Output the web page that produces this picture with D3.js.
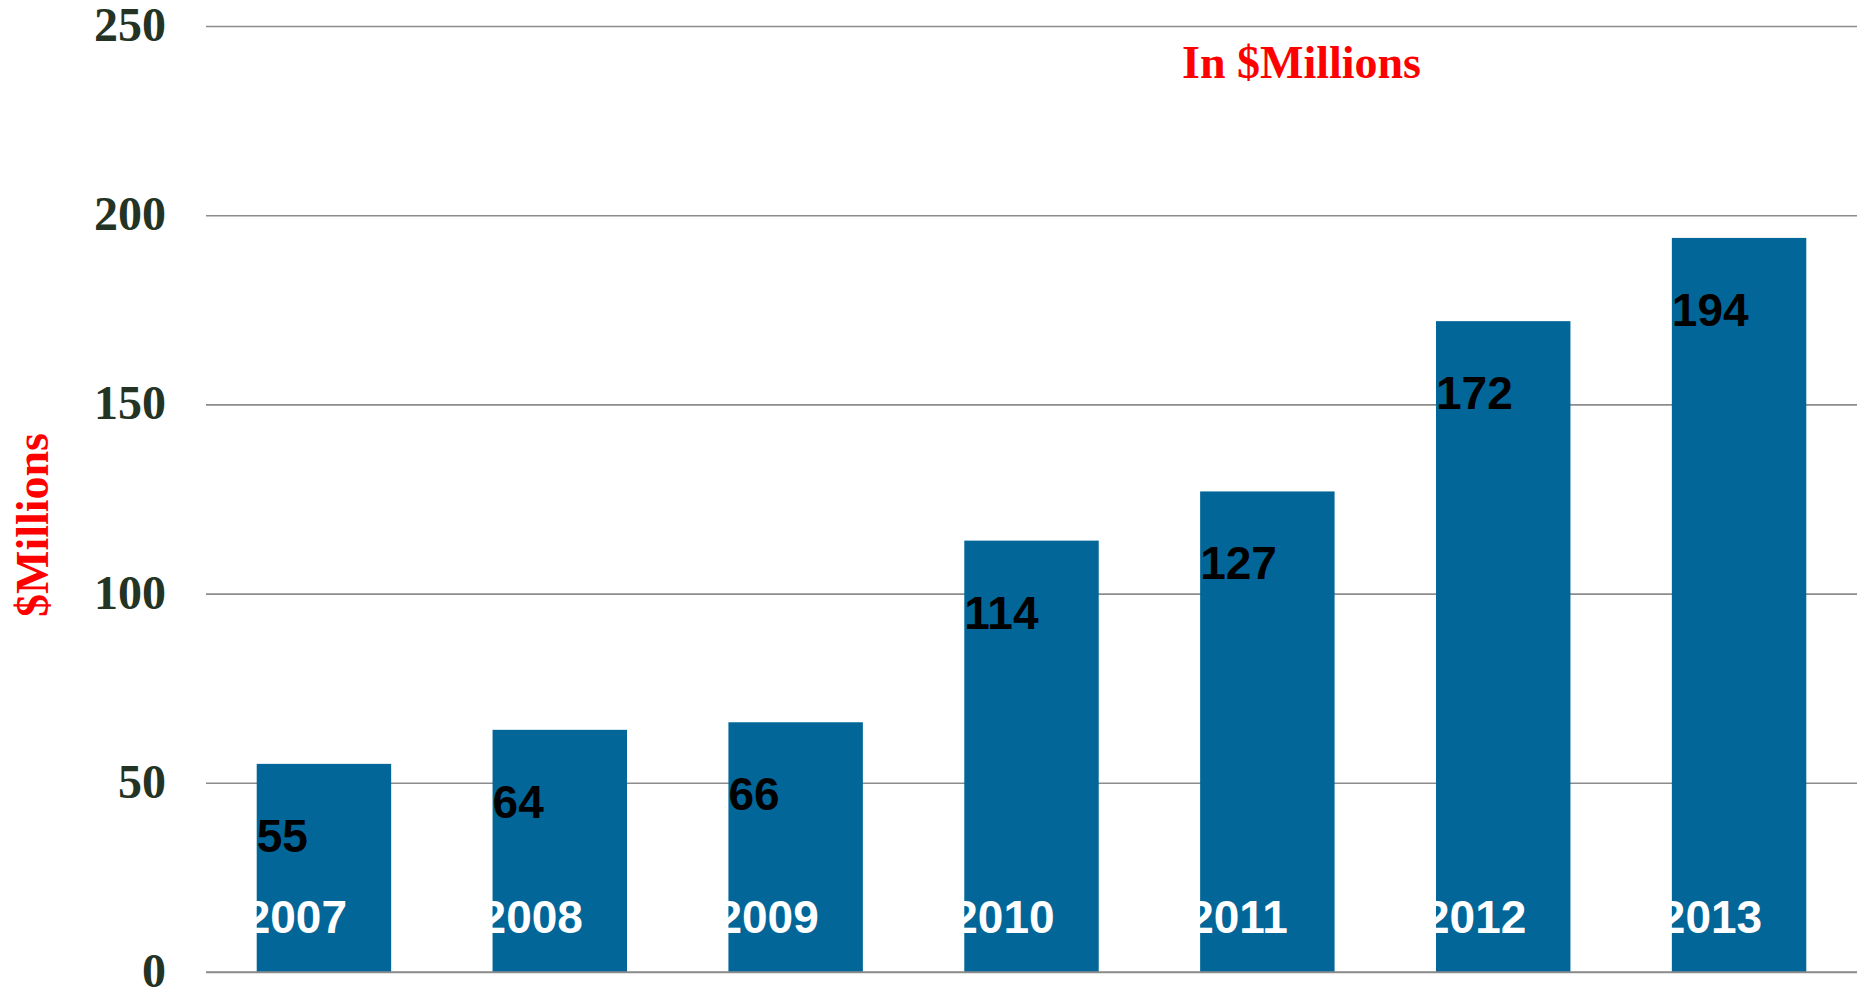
<!DOCTYPE html>
<html><head><meta charset="utf-8">
<script src="https://cdn.jsdelivr.net/npm/d3@7"></script>
<style>html,body{margin:0;padding:0;background:#fff;overflow:hidden}</style>
</head><body>
<svg id="chart" width="1866" height="990"></svg>
<script>
const categories = ["2007","2008","2009","2010","2011","2012","2013"];
const values = [55, 64, 66, 114, 127, 172, 194];
const yTicks = [0, 50, 100, 150, 200, 250];

(function () {
const svg = d3.select("#chart");
const mLeft = 206, mRight = 1857, mTop = 26, mBottom = 972;

const x = d3.scaleBand().domain(categories).range([mLeft, mRight])
  .paddingInner(0.43).paddingOuter(0.215);
const y = d3.scaleLinear().domain([0, 250]).range([mBottom, mTop]);

// gridlines
const yAxis = d3.axisLeft(y).tickValues(yTicks).tickSize(-(mRight - mLeft)).tickPadding(40);
const gy = svg.append("g").attr("transform", `translate(${mLeft},0)`).call(yAxis);
gy.select(".domain").remove();
gy.selectAll(".tick line").attr("stroke", "#8c8c8c").attr("stroke-width", 1.6);
gy.selectAll(".tick text")
  .attr("font-family", "'Liberation Serif','Times New Roman',serif")
  .attr("font-weight", "bold").attr("font-size", 48)
  .attr("fill", "#243424").attr("dy", "0.3em");

// bars
svg.append("g").selectAll("rect").data(values).join("rect")
  .attr("x", (d, i) => x(categories[i]))
  .attr("width", x.bandwidth())
  .attr("y", d => y(d))
  .attr("height", d => y(0) - y(d))
  .attr("fill", "#026699");

// baseline on top
svg.append("line").attr("x1", mLeft).attr("x2", mRight)
  .attr("y1", y(0)).attr("y2", y(0)).attr("stroke", "#8c8c8c").attr("stroke-width", 1.6);

// value labels
svg.append("g").selectAll("text").data(values).join("text")
  .attr("x", (d, i) => x(categories[i]))
  .attr("y", d => y(d) + 88)
  .attr("font-family", "'Liberation Sans',Arial,sans-serif")
  .attr("font-weight", "bold").attr("font-size", 46)
  .attr("fill", "#000").text(d => d);

// year labels inside bars
svg.append("g").selectAll("text").data(categories).join("text")
  .attr("x", d => x(d) - 12)
  .attr("y", y(0) - 39)
  .attr("font-family", "'Liberation Sans',Arial,sans-serif")
  .attr("font-weight", "bold").attr("font-size", 46)
  .attr("fill", "#fff").text(d => d);

// title
svg.append("text").attr("x", 1182).attr("y", 78)
  .attr("font-family", "'Liberation Serif','Times New Roman',serif")
  .attr("font-weight", "bold").attr("font-size", 46)
  .attr("fill", "#ff0000").text("In $Millions");

// y axis title
svg.append("text").attr("transform", "translate(48,525) rotate(-90)")
  .attr("text-anchor", "middle")
  .attr("font-family", "'Liberation Serif','Times New Roman',serif")
  .attr("font-weight", "bold").attr("font-size", 46)
  .attr("fill", "#ff0000").text("$Millions");
})();
</script>
</body></html>
